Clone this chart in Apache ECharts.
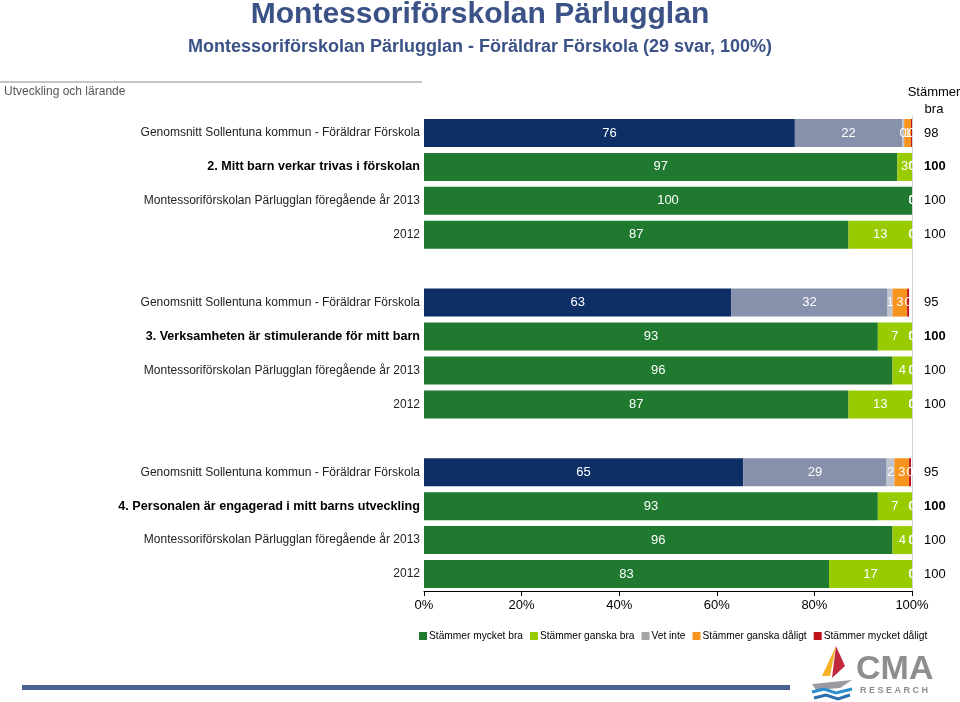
<!DOCTYPE html>
<html><head><meta charset="utf-8">
<script src="https://cdn.jsdelivr.net/npm/echarts@6/dist/echarts.min.js"></script>
<style>html,body{margin:0;padding:0;background:#fff}#c{width:960px;height:702px}</style>
</head><body><div id="c"></div>
<script>
const categories = [
  'Genomsnitt Sollentuna kommun - Föräldrar Förskola',
  '2. Mitt barn verkar trivas i förskolan',
  'Montessoriförskolan Pärlugglan föregående år 2013',
  '2012',
  '',
  'Genomsnitt Sollentuna kommun - Föräldrar Förskola',
  '3. Verksamheten är stimulerande för mitt barn',
  'Montessoriförskolan Pärlugglan föregående år 2013',
  '2012',
  ' ',
  'Genomsnitt Sollentuna kommun - Föräldrar Förskola',
  '4. Personalen är engagerad i mitt barns utveckling',
  'Montessoriförskolan Pärlugglan föregående år 2013',
  '2012'
];
const questionRows = [1, 6, 11];
const averageRows = [0, 5, 10];
const seriesNames = ['Stämmer mycket bra', 'Stämmer ganska bra', 'Vet inte', 'Stämmer ganska dåligt', 'Stämmer mycket dåligt'];
const mycketBra    = [76, 97, 100, 87, null, 63, 93, 96, 87, null, 65.4, 93, 96, 83];
const ganskaBra    = [22, 3, 0, 13, null, 32, 7, 4, 13, null, 29.4, 7, 4, 17];
const vetInte      = [0.4, 0, 0, 0, null, 1, 0, 0, 0, null, 1.6, 0, 0, 0];
const ganskaDaligt = [1.4, 0, 0, 0, null, 3, 0, 0, 0, null, 3, 0, 0, 0];
const mycketDaligt = [0.2, 0, 0, 0, null, 0.4, 0, 0, 0, null, 0.4, 0, 0, 0];
const xTicks = [0, 20, 40, 60, 80, 100];

const schoolColors = ['#1f7a30', '#99cc00', '#a6a6a6', '#f7941d', '#c0141c'];
const averageColors = ['#0d2f66', '#8891ab', '#bfc3cf', '#f7941d', '#c0141c'];
const allSeries = [mycketBra, ganskaBra, vetInte, ganskaDaligt, mycketDaligt];
const totals = categories.map((c, i) => mycketBra[i] == null ? '' : String(Math.round(mycketBra[i] + ganskaBra[i])));

const FONT = 'Liberation Sans, Arial, sans-serif';
const chart = echarts.init(document.getElementById('c'), null, {renderer: 'canvas'});

const series = allSeries.map((arr, s) => ({
  name: seriesNames[s],
  type: 'bar',
  stack: 'all',
  barWidth: 28,
  itemStyle: {color: schoolColors[s]},
  label: {
    show: true, position: 'inside', color: '#fff', fontSize: 13, fontFamily: FONT,
    formatter: p => p.value == null ? '' : String(Math.round(p.value))
  },
  data: arr.map((v, i) => v == null ? null : {
    value: v,
    itemStyle: {color: averageRows.includes(i) ? averageColors[s] : schoolColors[s]}
  })
}));

chart.setOption({
  animation: false,
  textStyle: {fontFamily: FONT},
  grid: {left: 424, right: 48, top: 116, bottom: 111, containLabel: false},
  legend: {
    data: seriesNames, left: 414, top: 626, width: 560, itemWidth: 8, itemHeight: 8, itemGap: 7,
    icon: 'rect', textStyle: {fontSize: 10.2, color: '#000', fontFamily: FONT, padding: [0, 0, 0, -3]}
  },
  xAxis: {
    type: 'value', min: 0, max: 100, interval: 20,
    axisLine: {show: true, lineStyle: {color: '#000'}},
    axisTick: {show: true, length: 5, lineStyle: {color: '#000'}},
    splitLine: {show: false},
    axisLabel: {formatter: v => xTicks.includes(v) ? v + '%' : '', fontSize: 13, color: '#000', margin: 8}
  },
  yAxis: [{
    type: 'category', data: categories, inverse: true,
    axisLine: {show: false}, axisTick: {show: false},
    axisLabel: {
      fontSize: 12, color: '#222', margin: 4,
      formatter: (v, i) => questionRows.includes(i) ? '{b|' + v + '}' : v,
      rich: {b: {fontWeight: 'bold', fontSize: 12.6, color: '#000'}}
    }
  }, {
    type: 'category', data: categories, inverse: true, position: 'right',
    axisLine: {show: true, lineStyle: {color: '#d4d4d4'}}, axisTick: {show: false},
    axisLabel: {
      fontSize: 13, color: '#000', margin: 12,
      formatter: (v, i) => questionRows.includes(i) ? '{b|' + totals[i] + '}' : totals[i],
      rich: {b: {fontWeight: 'bold', fontSize: 13, color: '#000'}}
    }
  }],
  series: series,
  graphic: [
    {type: 'text', left: 'center', top: 0, style: {text: 'Montessoriförskolan Pärlugglan', font: 'bold 30px ' + FONT, fill: '#3b5287'}},
    {type: 'text', left: 'center', top: 38, style: {text: 'Montessoriförskolan Pärlugglan - Föräldrar Förskola (29 svar, 100%)', font: 'bold 18px ' + FONT, fill: '#3b5287'}},
    {type: 'line', shape: {x1: 0, y1: 82, x2: 422, y2: 82}, style: {stroke: '#8c8c8c', lineWidth: 1}},
    {type: 'text', x: 4, y: 86, style: {text: 'Utveckling och lärande', font: '12px ' + FONT, fill: '#555'}},
    {type: 'text', x: 934, y: 84, style: {text: 'Stämmer\nbra', font: '13px ' + FONT, fill: '#000', align: 'center', lineHeight: 17}},
    {type: 'rect', shape: {x: 22, y: 685, width: 768, height: 5}, style: {fill: '#4a6090'}},
    {type: 'polygon', shape: {points: [[822, 676], [836, 646], [830, 676]]}, style: {fill: '#f5b324'}},
    {type: 'polygon', shape: {points: [[836, 646], [845, 666], [832, 678]]}, style: {fill: '#c0283c'}},
    {type: 'polygon', shape: {points: [[812, 684], [852, 680], [840, 688], [816, 690]]}, style: {fill: '#9a9aa0'}},
    {type: 'polyline', shape: {points: [[812, 692], [824, 689], [836, 693], [852, 689]]}, style: {stroke: '#2a8fcf', lineWidth: 3, fill: null}},
    {type: 'polyline', shape: {points: [[814, 698], [826, 695], [838, 699], [850, 695]]}, style: {stroke: '#2a6fb0', lineWidth: 3, fill: null}},
    {type: 'text', x: 856, y: 653, style: {text: 'CMA', font: 'bold 34px ' + FONT, fill: '#8e8e8e'}},
    {type: 'text', x: 860, y: 686, style: {text: 'R E S E A R C H', font: 'bold 9px ' + FONT, fill: '#8e8e8e'}}
  ]
});
</script></body></html>
